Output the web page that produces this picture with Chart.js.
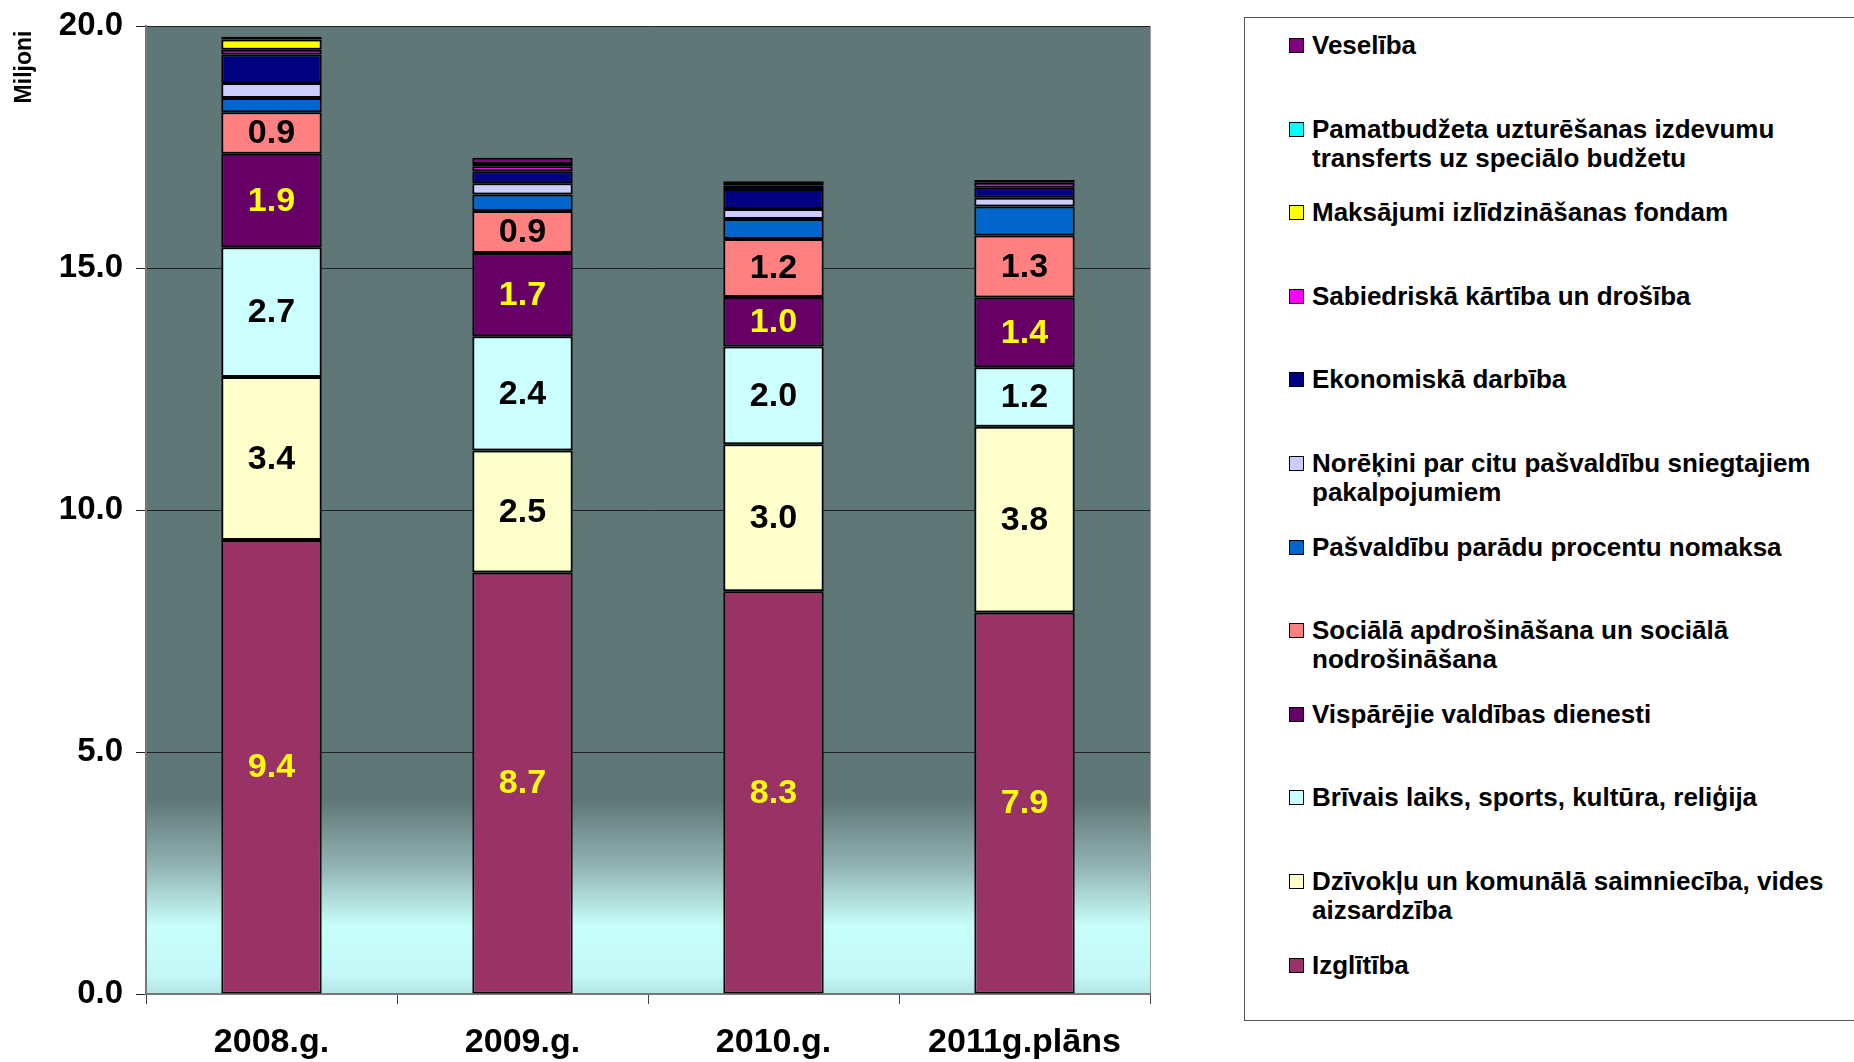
<!DOCTYPE html>
<html>
<head>
<meta charset="utf-8">
<script src="https://cdn.jsdelivr.net/npm/chart.js@4.4.1/dist/chart.umd.min.js"></script>
<style>
  html, body { margin: 0; padding: 0; background: #fff; }
  #wrap { position: relative; width: 1854px; height: 1062px; overflow: hidden; }
  #chart { position: absolute; left: 0; top: 0; }
  #legend {
    position: absolute; left: 1244px; top: 17px; width: 640px; height: 1002px;
    border: 1px solid #555; background: #fff;
    font-family: "Liberation Sans", Arial, sans-serif; font-weight: bold; font-size: 26px; color: #000;
  }
  .item { position: absolute; left: 44px; display: flex; align-items: flex-start; line-height: 29px; }
  .box { width: 13px; height: 13px; border: 1.5px solid #000; margin-top: 7px; margin-right: 8px; flex: none; }
  .txt { white-space: pre-line; }
</style>
</head>
<body>
<div id="wrap">
  <canvas id="chart" width="1854" height="1062"></canvas>
  <div id="legend"></div>
</div>
<script>
const categories = ["2008.g.", "2009.g.", "2010.g.", "2011g.plāns"];

// milj. (no apakšas uz augšu)
const izglitiba    = [9.38, 8.71, 8.32, 7.88];
const dzivoklu     = [3.37, 2.52, 3.04, 3.84];
const brivais      = [2.68, 2.36, 2.02, 1.23];
const visparejie   = [1.93, 1.72, 1.02, 1.44];
const socialaa     = [0.86, 0.87, 1.20, 1.28];
const paradu       = [0.29, 0.34, 0.41, 0.60];
const norekini     = [0.31, 0.23, 0.21, 0.18];
const ekonomiska   = [0.59, 0.25, 0.41, 0.21];
const sabiedriska  = [0.10, 0.10, 0.08, 0.10];
const maksajumi    = [0.21, 0.05, 0, 0];
const pamatbudzeta = [0, 0, 0, 0];
const veseliba     = [0.06, 0.13, 0.08, 0.06];

const yTicks = [0, 5, 10, 15, 20];

const series = [
  ["Izglītība", izglitiba, "#993366", "#ffff00"],
  ["Dzīvokļu un komunālā saimniecība, vides\naizsardzība", dzivoklu, "#ffffcc", "#000"],
  ["Brīvais laiks, sports, kultūra, reliģija", brivais, "#ccffff", "#000"],
  ["Vispārējie valdības dienesti", visparejie, "#660066", "#ffff00"],
  ["Sociālā apdrošināšana un sociālā\nnodrošināšana", socialaa, "#ff8080", "#000"],
  ["Pašvaldību parādu procentu nomaksa", paradu, "#0066cc", null],
  ["Norēķini par citu pašvaldību  sniegtajiem\npakalpojumiem", norekini, "#ccccff", null],
  ["Ekonomiskā darbība", ekonomiska, "#000080", null],
  ["Sabiedriskā kārtība un drošība", sabiedriska, "#ff00ff", null],
  ["Maksājumi izlīdzināšanas fondam", maksajumi, "#ffff00", null],
  ["Pamatbudžeta uzturēšanas izdevumu\ntransferts uz speciālo budžetu", pamatbudzeta, "#00ffff", null],
  ["Veselība", veseliba, "#800080", null],
];

const datasets = series.map(s => ({
  label: s[0],
  data: s[1],
  backgroundColor: s[2],
  borderColor: "#000",
  borderWidth: 2,
  borderSkipped: false,
  labelColor: s[3],
}));

const bgPlugin = {
  id: "bg",
  beforeDraw(chart) {
    const { ctx, chartArea: a } = chart;
    const g = ctx.createLinearGradient(0, a.top, 0, a.bottom);
    g.addColorStop(0, "#5f7777");
    g.addColorStop(0.80, "#5f7777");
    g.addColorStop(0.87, "#93b5b5");
    g.addColorStop(0.93, "#c8fffb");
    g.addColorStop(0.98, "#c3f8f6");
    g.addColorStop(1, "#b2e4e4");
    ctx.save();
    ctx.fillStyle = g;
    ctx.fillRect(a.left, a.top, a.right - a.left, a.bottom - a.top);
    ctx.strokeStyle = "#999";
    ctx.lineWidth = 1;
    ctx.beginPath();
    ctx.moveTo(a.right + 0.5, a.top);
    ctx.lineTo(a.right + 0.5, a.bottom);
    ctx.stroke();
    ctx.restore();
  },
  afterDraw(chart) {
    const ctx = chart.ctx;
    ctx.save();
    ctx.translate(25, 67);
    ctx.rotate(-Math.PI / 2);
    ctx.font = "bold 23px 'Liberation Sans', Arial, sans-serif";
    ctx.fillStyle = "#000";
    ctx.textAlign = "center";
    ctx.textBaseline = "middle";
    ctx.fillText("Miljoni", 0, 0);
    ctx.restore();
  }
};

const valueLabels = {
  id: "valueLabels",
  afterDatasetsDraw(chart) {
    const ctx = chart.ctx;
    ctx.save();
    ctx.font = "bold 34px 'Liberation Sans', Arial, sans-serif";
    ctx.textAlign = "center";
    ctx.textBaseline = "middle";
    chart.data.datasets.forEach((ds, i) => {
      if (!ds.labelColor) return;
      chart.getDatasetMeta(i).data.forEach((el, j) => {
        const p = el.getProps(["x", "y", "base"], true);
        ctx.fillStyle = ds.labelColor;
        ctx.fillText(ds.data[j].toFixed(1), p.x, (p.y + p.base) / 2 + 1);
      });
    });
    ctx.restore();
  }
};

const chart = new Chart(document.getElementById("chart"), {
  type: "bar",
  data: { labels: categories, datasets: datasets },
  options: {
    responsive: false,
    animation: false,
    layout: { padding: { left: 0, top: 26, right: 704, bottom: 0 } },
    datasets: { bar: { categoryPercentage: 1, barPercentage: 0.4 } },
    plugins: { legend: { display: false }, tooltip: { enabled: false } },
    scales: {
      x: {
        stacked: true,
        grid: { drawOnChartArea: false, drawTicks: true, tickLength: 10, color: "#444", offset: true },
        border: { display: true, color: "#777", width: 2 },
        ticks: { color: "#000", padding: 18, font: { family: "'Liberation Sans', Arial", size: 34, weight: "bold" } },
        afterFit(s) { s.height = 68; },
      },
      y: {
        stacked: true,
        min: 0,
        max: 20,
        afterBuildTicks(s) { s.ticks = yTicks.map(v => ({ value: v })); },
        grid: { color: "#222", lineWidth: 1, drawTicks: true, tickLength: 10 },
        border: { display: true, color: "#777", width: 2 },
        ticks: {
          color: "#000", padding: 13,
          font: { family: "'Liberation Sans', Arial", size: 33, weight: "bold", lineHeight: 0.5 },
          callback: v => Number(v).toFixed(1),
        },
        afterFit(s) { s.width = 146; s.paddingTop = 0; s.paddingBottom = 0; },
      },
    },
  },
  plugins: [bgPlugin, valueLabels],
});

// legenda (apgrieztā secībā)
const legendEl = document.getElementById("legend");
chart.data.datasets.slice().reverse().forEach((ds, i) => {
  const item = document.createElement("div");
  item.className = "item";
  item.style.top = (13 + i * 83.6) + "px";
  const box = document.createElement("span");
  box.className = "box";
  box.style.background = ds.backgroundColor;
  const txt = document.createElement("span");
  txt.className = "txt";
  txt.textContent = ds.label;
  item.appendChild(box);
  item.appendChild(txt);
  legendEl.appendChild(item);
});
</script>
</body>
</html>
